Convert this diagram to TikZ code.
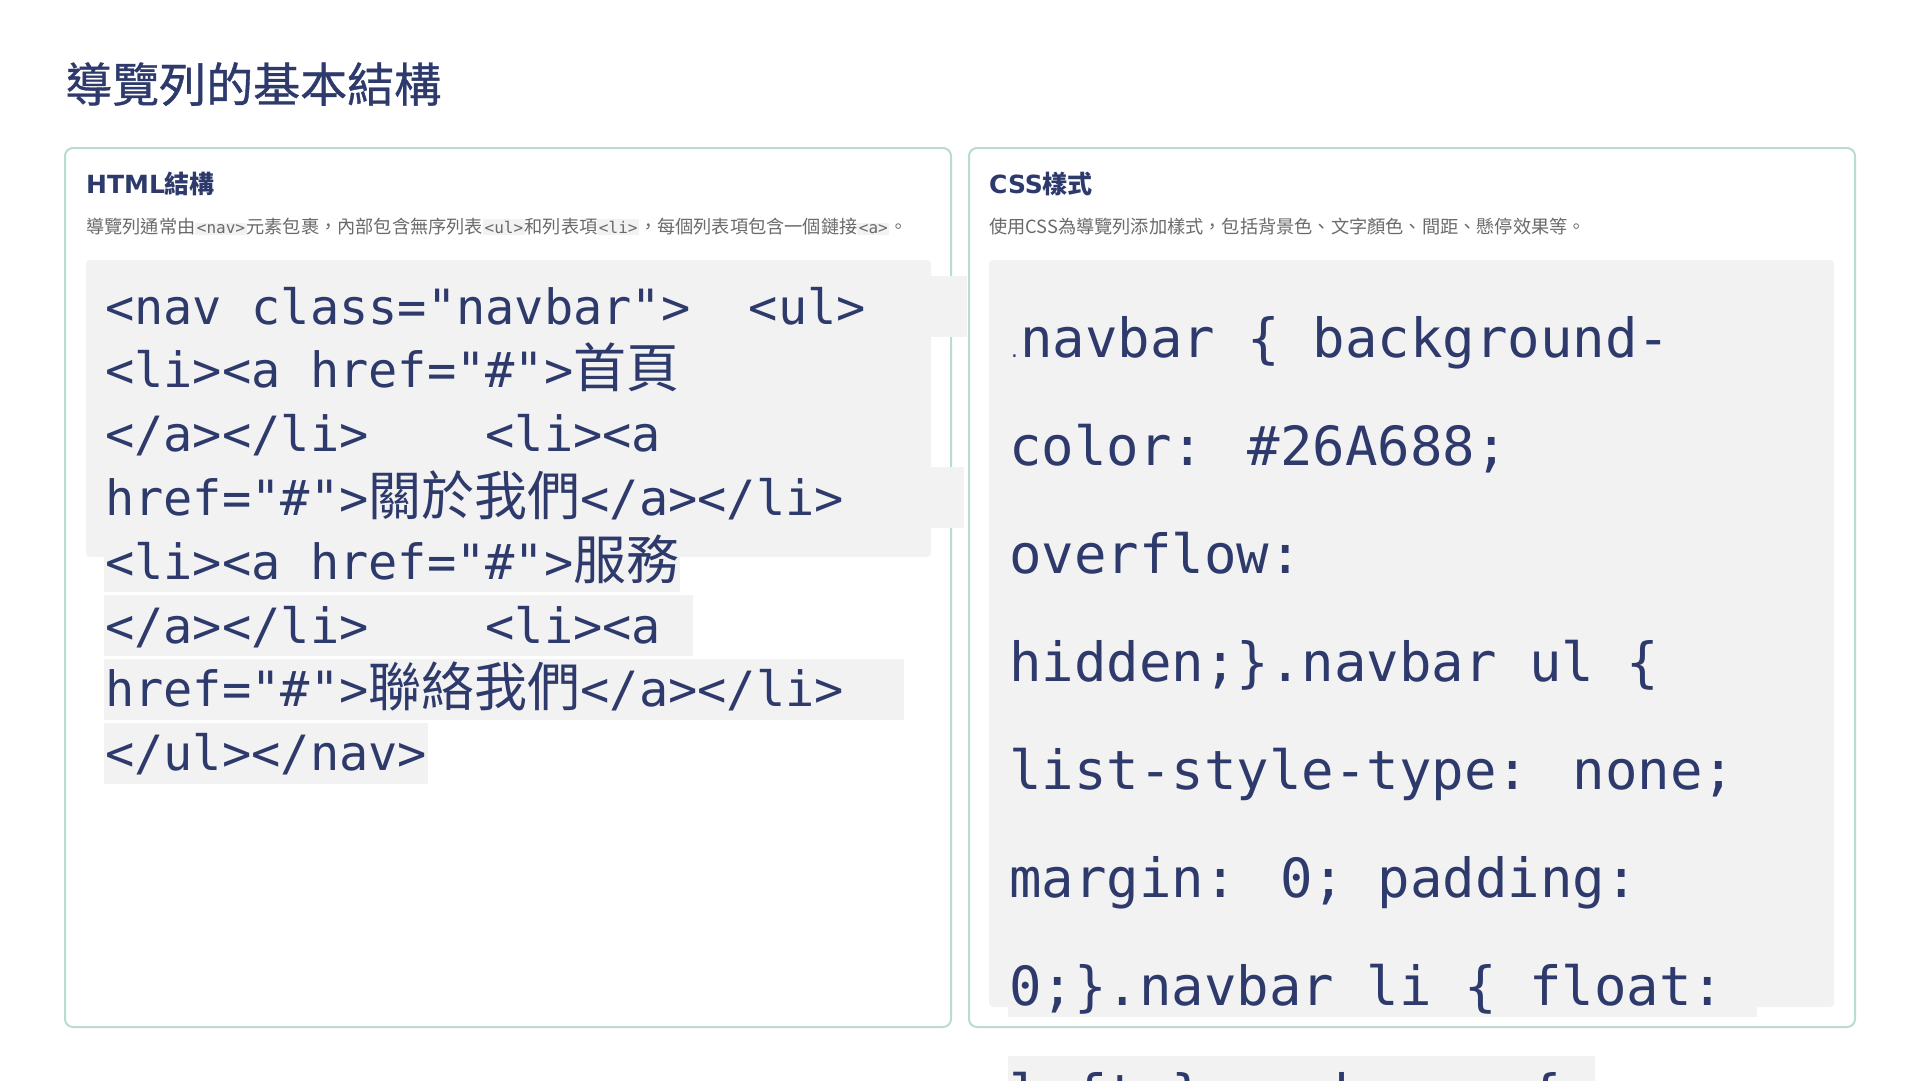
\documentclass[tikz,border=0pt]{standalone}
\usepackage{fontspec}
\usepackage{tikz}
\setmainfont{Noto Sans CJK TC}
\newfontfamily\codefont{DejaVu Sans Mono}
\newfontfamily\cjk{Noto Sans CJK TC}
\newfontfamily\titlefont{Noto Sans CJK TC}[FakeBold=0.8]
\newfontfamily\headfont{DejaVu Sans}
\definecolor{navy}{HTML}{2D3A6B}
\definecolor{cardline}{HTML}{B8DCD2}
\definecolor{codebg}{HTML}{F2F2F2}
\definecolor{desc}{HTML}{6A6A6A}
\newcommand{\ic}[1]{{\setlength{\fboxsep}{1.5pt}\colorbox{codebg}{\codefont\fontsize{16}{16}\selectfont #1}}}
\newcommand{\cj}[1]{{\cjk\fontsize{53}{53}\selectfont #1}}

\begin{document}
\begin{tikzpicture}[x=1pt, y=-1pt,
    card/.style={draw=cardline, line width=2pt, fill=white, rounded corners=8pt},
    codebox/.style={fill=codebg, rounded corners=4pt},
    htmlline/.style={fill=codebg, inner xsep=1pt, inner ysep=0pt, text height=48pt,
        text depth=13pt, anchor=base west, text=navy,
        font=\codefont\fontsize{48.6}{48.6}\selectfont},
    cssline/.style={fill=codebg, inner xsep=1pt, inner ysep=0pt, text height=57pt,
        text depth=12pt, anchor=base west, text=navy,
        font=\codefont\fontsize{54}{54}\selectfont},
    cardhead/.style={anchor=base west, inner sep=0pt, text=navy,
        font=\fontsize{25}{25}\selectfont\bfseries},
    carddesc/.style={anchor=base west, inner sep=0pt, text=desc,
        font=\fontsize{18.2}{18.2}\selectfont}]
    \useasboundingbox (0,0) rectangle (1920,1080);
    \clip (0,0) rectangle (1920,1080);
    \fill[white] (0,0) rectangle (1920,1080);

    % title
    \node[anchor=base west, inner sep=0pt, text=navy, font=\titlefont\fontsize{47}{47}\selectfont]
        (title) at (65,102) {導覽列的基本結構};

    % cards
    \draw[card] (65,148) rectangle (951,1027);
    \draw[card] (969,148) rectangle (1855,1027);
    \node[cardhead] (htmlhead) at (86,193) {{\headfont\bfseries HTML}結構};
    \node[cardhead] (csshead) at (989,193) {{\headfont\bfseries CSS}樣式};
    \node[carddesc] (htmldesc) at (86,233)
        {導覽列通常由\ic{<nav>}元素包裹，內部包含無序列表\ic{<ul>}和列表項\ic{<li>}，每個列表項包含一個鏈接\ic{<a>}。};
    \node[carddesc] (cssdesc) at (989,233)
        {使用CSS為導覽列添加樣式，包括背景色、文字顏色、間距、懸停效果等。};

    % code boxes
    \fill[codebox] (86,260) rectangle (931,557);
    \fill[codebox] (989,260) rectangle (1834,1007);

    % html code, wrapped
    \foreach \t [count=\i from 0] in {
        {<nav class="navbar">\ \ <ul>\hspace*{100pt}},
        {<li><a href="\#">\cj{首頁}},
        {</a></li>\ \ \ \ <li><a},
        {href="\#">\cj{關於我們}</a></li>\hspace*{119pt}},
        {<li><a href="\#">\cj{服務}},
        {</a></li>\ \ \ \ <li><a\hspace*{31pt}},
        {href="\#">\cj{聯絡我們}</a></li>\hspace*{59pt}},
        {</ul></nav>}}
        \node[htmlline] (html\i) at (104,324+63.8*\i) {\t};

    % css code, wrapped
    \foreach \t [count=\i from 0] in {
        {{\fontsize{18}{18}\selectfont.}navbar \{ background-},
        {color: \#26A688;},
        {overflow:},
        {hidden;\}.navbar ul \{},
        {list-style-type: none;},
        {margin: 0; padding:},
        {0;\}.navbar li \{ float:},
        {left;\}.navbar a \{}}
        \node[cssline] (css\i) at (1008,357+108*\i) {\t\hspace*{32pt}};
\end{tikzpicture}
\end{document}
